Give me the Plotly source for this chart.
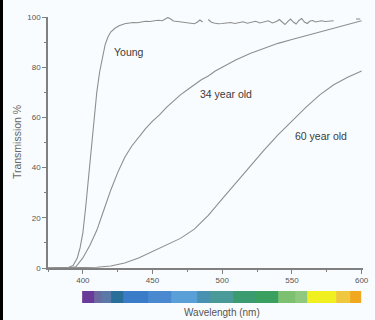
import plotly.graph_objects as go

# ---------------- data ----------------
young_nm = [375, 385, 390, 393, 396, 398, 400, 402, 404, 406, 408, 410, 412, 414, 416, 418,
            420, 423, 426, 430, 433, 436, 439, 442, 445, 448, 451, 454, 457, 459, 461, 463,
            465, 468, 471, 474, 477, 480, 482, 484, 486, 488, 490, 492, 494, 497, 500, 503,
            506, 509, 512, 515, 518, 521, 524, 527, 530, 533, 536, 539, 541, 543, 545, 547,
            549, 551, 553, 555, 557, 559, 561, 563, 565, 567, 569, 571, 574, 577, 580, 588,
            596, 599]
young_pct = [0, 0, 0.3, 1, 4, 8, 14, 24, 36, 48, 60, 70, 78, 84, 89, 92,
             94, 95.5, 96.5, 97.3, 97.6, 97.8, 97.7, 98.0, 98.3, 98.2, 98.5, 98.7, 98.5, 99.3, 99.8, 99.2,
             98.4, 98.2, 98.0, 97.8, 97.5, 97.3, 97.9, 98.8, 98.0, None, 99.0, 98.0, 97.6, 97.3, 97.4, 97.5,
             97.8, 97.4, 97.6, 98.1, 97.5, 97.8, 98.3, 97.6, 97.9, 98.5, 97.6, 98.2, 99.0, 97.8, 97.0, 98.2,
             99.2, 98.0, 97.2, 98.6, 99.4, 98.0, 97.4, 98.4, 98.6, 98.0, 98.2, 98.5, 98.2, 98.4, 98.5, None,
             99.2, 99.2]

y34_nm = [375, 390, 395, 400, 405, 410, 415, 420, 425, 430, 435, 440, 445, 450, 455, 460,
          465, 470, 475, 480, 485, 490, 495, 500, 510, 520, 530, 540, 550, 560, 570, 580,
          590, 600]
y34_pct = [0, 0, 0.5, 4, 9, 15, 23, 31, 38, 44, 48.5, 52, 55.5, 58.5, 61, 64,
           66.5, 69, 71, 73, 75, 76.5, 78.5, 80, 83, 85.5, 87.5, 89.5, 91, 92.5, 94, 95.5,
           97, 98.5]

y60_nm = [375, 400, 410, 420, 430, 440, 450, 460, 470, 480, 490, 500, 510, 520, 530,
          540, 550, 560, 570, 580, 590, 600]
y60_pct = [0, 0, 0.3, 0.8, 2, 4, 6.5, 9, 11.8, 15.5, 21, 27.5, 34, 40.5, 47,
           53, 58.5, 64, 69, 73, 76, 78.5]

curve_labels = ["Young", "34 year old", "60 year old"]
label_nm = [433, 503, 571]
label_pct = [86, 69.5, 52.5]

# visible spectrum strip (segment edges in nm and colours)
spec_edges = [399.5, 408, 413, 420, 429, 446.5, 463, 482, 491, 508, 524, 540, 552, 561,
              582, 592, 599.5]
spec_colors = ["#6a3a98", "#6a6aa0", "#5a78a8", "#2a6e9a", "#3a7cc8", "#4a88d0", "#5aa0d8",
               "#4a90b0", "#4a9a9a", "#3a9a70", "#3aa060", "#7cc070", "#90c880", "#f0f020",
               "#f0c840", "#f0a820"]

x_ticks = [400, 450, 500, 550, 600]
y_ticks = [0, 20, 40, 60, 80, 100]

# ---------------- figure ----------------
W, H = 375, 320
ML, MR, MT, MB = 48, 6, 17, 12
plot_w = W - ML - MR
plot_h = H - MT - MB
main_bottom = (H - MB - 268) / plot_h
spec_lo = (H - MB - 303) / plot_h
spec_hi = (H - MB - 291) / plot_h

LINE = "#8e8e8e"
BG = "#f9fcfe"
FONT = "Liberation Sans Narrow, Liberation Sans, Arial, sans-serif"

fig = go.Figure()
for xs, ys in [(young_nm, young_pct), (y34_nm, y34_pct), (y60_nm, y60_pct)]:
    fig.add_trace(go.Scatter(x=xs, y=ys, mode="lines", line=dict(color=LINE, width=1.1),
                             connectgaps=False, showlegend=False, hoverinfo="skip"))

n = len(spec_colors)
cs = []
for i, c in enumerate(spec_colors):
    cs.append([i / n, c])
    cs.append([(i + 1) / n, c])
fig.add_trace(go.Heatmap(x=spec_edges, y=[0, 1], z=[list(range(n))], zmin=-0.5, zmax=n - 0.5,
                         colorscale=cs, showscale=False, xaxis="x2", yaxis="y2",
                         hoverinfo="skip", zsmooth=False))

for t, x, y in zip(curve_labels, label_nm, label_pct):
    fig.add_annotation(x=x, y=y, xref="x", yref="y", text=t, showarrow=False,
                       font=dict(family=FONT, size=10.5, color="#3a3a3a"))

fig.add_annotation(x=500, y=(H - MB - 312) / plot_h, xref="x", yref="paper",
                   text="Wavelength (nm)", showarrow=False, yanchor="middle",
                   font=dict(family=FONT, size=10, color="#555555"))
fig.add_annotation(x=(16 - ML) / plot_w, y=50, xref="paper", yref="y",
                   text="Transmission %", textangle=-90, showarrow=False,
                   xanchor="center",
                   font=dict(family=FONT, size=10.5, color="#666666"))

axis_common = dict(showgrid=False, zeroline=False, showline=True, linecolor="#808080",
                   linewidth=1.5, ticks="outside", ticklen=4, tickwidth=1, tickcolor="#808080",
                   tickfont=dict(family=FONT, size=8, color="#555555"))

fig.update_layout(
    width=W, height=H,
    margin=dict(l=ML, r=MR, t=MT, b=MB),
    paper_bgcolor=BG, plot_bgcolor=BG,
    xaxis=dict(range=[375, 601], tickvals=x_ticks, anchor="y",
               minor=dict(dtick=25, ticks="outside", ticklen=2, tickcolor="#808080"),
               **axis_common),
    yaxis=dict(range=[0, 100], tickvals=y_ticks, domain=[main_bottom, 1],
               minor=dict(dtick=10, ticks="outside", ticklen=2, tickcolor="#808080"),
               **axis_common),
    xaxis2=dict(range=[375, 601], visible=False, anchor="y2"),
    yaxis2=dict(range=[0, 1], visible=False, domain=[spec_lo, spec_hi], anchor="x2"),
)

fig.write_html("out.html",
               config={"displayModeBar": False},
               post_script="document.body.style.margin='0';document.body.style.padding='0';"
                           "document.body.style.overflow='hidden';"
                           "document.body.style.background='" + BG + "';"
                           "var d=document.createElement('div');"
                           "d.style.cssText='position:fixed;left:0;top:0;width:3px;height:100%;"
                           "background:#000;z-index:9999;pointer-events:none';"
                           "document.body.appendChild(d);")
